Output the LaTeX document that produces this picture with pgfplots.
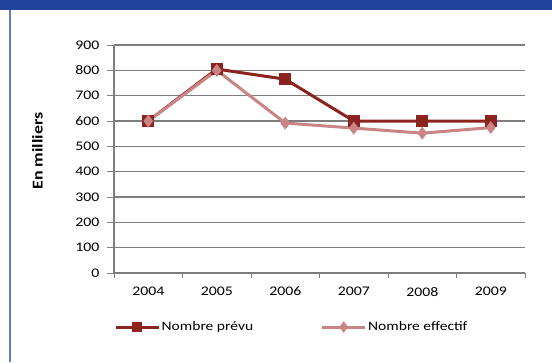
\documentclass[border=0pt]{standalone}
\usepackage{fontspec}
\setmainfont{Carlito}[FakeStretch=1.2]
\usepackage{pgfplots}
\pgfplotsset{compat=1.18}
\definecolor{prevu}{RGB}{140,35,30}
\definecolor{effectif}{RGB}{201,132,132}
\definecolor{topbar}{RGB}{31,68,153}
\definecolor{sideline}{RGB}{95,125,200}
\definecolor{gridc}{RGB}{125,125,125}
\begin{document}
\begin{tikzpicture}[x=1bp,y=1bp]
\fill[white] (0,0) rectangle (552,362);
\fill[topbar] (0,352) rectangle (552,362);
\fill[sideline] (8.8,0) rectangle (10.6,352);
\begin{axis}[
  at={(114bp,89bp)}, anchor=south west,
  width=411bp, height=228bp, scale only axis,
  xmin=-0.5, xmax=5.5, ymin=0, ymax=900,
  ytick={0,100,...,900},
  xtick={0,...,5}, xticklabels={2004,2005,2006,2007,2008,2009},
  minor xtick={-0.5,0.5,...,5.5},
  axis x line*=bottom, axis y line*=left,
  ymajorgrids, xmajorgrids=false,
  major grid style={gridc, line width=1.2bp},
  axis line style={gridc, line width=1.1bp},
  tick align=outside,
  major x tick style={draw=none},
  minor x tick style={gridc, line width=1bp},
  major y tick style={gridc, line width=1bp},
  major tick length=7bp, minor tick length=5bp,
  /pgf/number format/assume math mode=true,
  ticklabel style={font=\fontsize{13.2}{15}\selectfont, text=black},
  xticklabel style={yshift=-3.5bp},
  yticklabel style={xshift=-4bp},
  ylabel={En milliers},
  ylabel style={at={(axis description cs:-0.186,0.535)}, anchor=center, font=\bfseries\fontsize{15}{17}\selectfont},
  legend columns=2,
  legend style={at={(0,-0.237)}, anchor=west, draw=none, fill=none, inner sep=0pt,
    font=\fontsize{13}{15}\selectfont, nodes={inner sep=1.5bp},
    /tikz/every even column/.append style={column sep=66bp}},
  legend image code/.code={\draw[mark repeat=2,mark phase=2,#1,mark size=3.3bp] plot coordinates {(0bp,0bp) (21.5bp,0bp) (43bp,0bp)};},
]
\addplot[prevu, line width=3bp, mark=square*, mark size=4.5bp, mark options={solid}]
  coordinates {(0,600) (1,805) (2,765) (3,600) (4,600) (5,600)};
\addlegendentry{Nombre prévu}
\addplot[effectif, line width=3bp, mark=diamond*, mark size=4bp, mark options={solid}]
  coordinates {(0,600) (1,800) (2,592) (3,572) (4,552) (5,574)};
\addlegendentry{Nombre effectif}
\end{axis}
\end{tikzpicture}
\end{document}
